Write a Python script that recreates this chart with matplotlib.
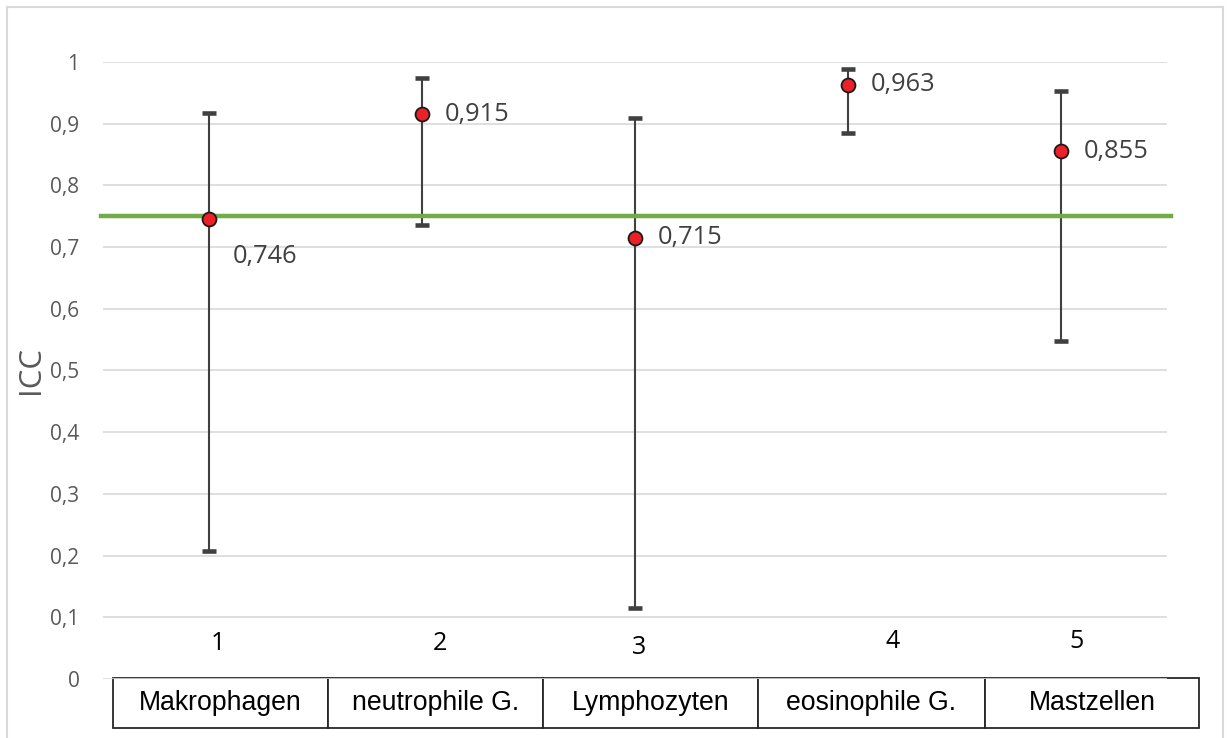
import numpy as np
import matplotlib
matplotlib.use('Agg')
import matplotlib.pyplot as plt
from matplotlib.ticker import FuncFormatter, MultipleLocator
from matplotlib.lines import Line2D

# Daten: ICC je Zelltyp mit 95%-Konfidenzintervall
kategorien = ['Makrophagen', 'neutrophile G.', 'Lymphozyten', 'eosinophile G.', 'Mastzellen']
nummern = ['1', '2', '3', '4', '5']
icc = [0.746, 0.915, 0.715, 0.963, 0.855]
ci_unten = [0.207, 0.736, 0.115, 0.885, 0.548]
ci_oben = [0.917, 0.974, 0.909, 0.989, 0.953]
schwelle = 0.75

plt.rcParams['font.family'] = ['Open Sans', 'DejaVu Sans']

fig = plt.figure(figsize=(12.28, 7.38), dpi=100)
W, H = 1228, 738
ax = fig.add_axes([103 / W, 1 - 679 / H, 1064 / W, 617 / H])

x = np.arange(1, len(icc) + 1)
icc = np.array(icc)
fehler = np.array([icc - np.array(ci_unten), np.array(ci_oben) - icc])

# Fehlerbalken (KI) und Punkte
ax.errorbar(x, icc, yerr=fehler, fmt='none', ecolor='#404040', elinewidth=1.5,
            capsize=5, capthick=3.3, zorder=3)
ax.plot(x, icc, 'o', markersize=10, markerfacecolor='#EC2027',
        markeredgecolor='#1a1a1a', markeredgewidth=1.3, zorder=5)

# Schwelle 0,75
ax.axhline(schwelle, xmin=-0.002, xmax=1.004, color='#70AD47', lw=3.2,
           zorder=4, clip_on=False)

# Werte neben den Punkten
for i, v in enumerate(icc):
    dx, dy = 16.5, 0
    if i == 0:
        dx, dy = 17, -27
    ax.annotate(f'{v:.3f}'.replace('.', ','), (x[i], v), xytext=(dx, dy),
                textcoords='offset points', ha='left', va='center',
                fontsize=18.3, color='#404040', zorder=6)

# Nummern über der Tabelle
num_dx = [0.04, 0.085, 0.02, 0.21, 0.075]
num_y = [0.058, 0.058, 0.051, 0.06, 0.06]
for i, n in enumerate(nummern):
    ax.text(x[i] + num_dx[i], num_y[i], n, ha='center', va='center',
            fontsize=18, color='black')

ax.set_xlim(0.5, len(icc) + 0.5)
ax.set_ylim(0, 1)
ax.yaxis.set_major_locator(MultipleLocator(0.1))
ax.yaxis.set_major_formatter(FuncFormatter(lambda v, p: f'{round(v, 1):g}'.replace('.', ',')))
ax.tick_params(axis='y', length=0, pad=17, labelsize=15, labelcolor='#595959')
ax.set_xticks([])
ax.grid(axis='y', color='#D9D9D9', lw=1.2, zorder=0)
ax.set_axisbelow(True)
for s in ax.spines.values():
    s.set_visible(False)

ax.set_ylabel('ICC', fontsize=22.5, color='#595959', va='center')
ax.yaxis.set_label_coords(-0.068, 0.5)

# Tabelle mit den Zelltypen unter der Achse
breiten = np.array([215, 215, 215, 227, 214], dtype=float)
tab = ax.table(cellText=[kategorien], cellLoc='center',
               colWidths=list(breiten / breiten.sum()),
               bbox=[10 / 1064, -49 / 617, 1086 / 1064, 50 / 617])
tab.auto_set_font_size(False)
tab.set_fontsize(19.2)
for cell in tab.get_celld().values():
    cell.set_edgecolor('#262626')
    cell.set_linewidth(1.3)
    cell.get_text().set_fontfamily('Liberation Sans')
    cell.get_text().set_color('black')

# Rahmen des Diagrammbereichs
rahmen = '#D9D9D9'
fig.add_artist(Line2D([7 / W, 7 / W], [0, 1 - 7 / H], color=rahmen, lw=1.5))
fig.add_artist(Line2D([7 / W, 1223 / W], [1 - 7 / H, 1 - 7 / H], color=rahmen, lw=1.5))
fig.add_artist(Line2D([1223 / W, 1223 / W], [0, 1 - 7 / H], color=rahmen, lw=1.5))

fig.savefig('out.png', dpi=100)
